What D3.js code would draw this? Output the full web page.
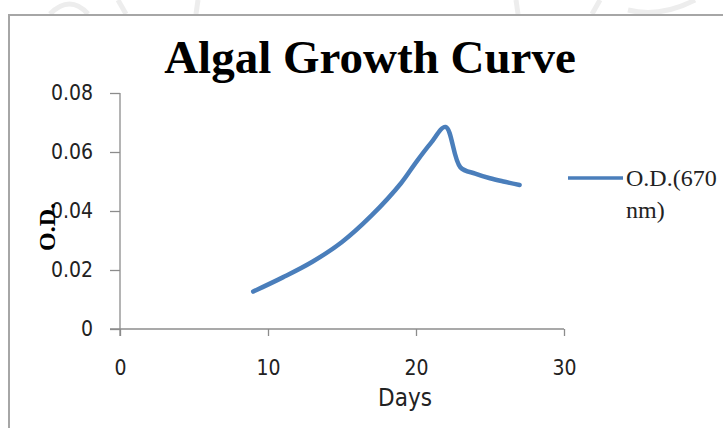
<!DOCTYPE html>
<html>
<head>
<meta charset="utf-8">
<script src="https://cdn.jsdelivr.net/npm/d3@7"></script>
<style>
  body { margin: 0; background: #fff; }
  svg { display: block; }
</style>
</head>
<body>
<svg id="chart" width="723" height="428"></svg>
<script>
// readings taken off the original chart
var days = [9, 11, 13, 15, 17, 19, 20, 21, 22, 23, 24, 25, 26, 27];
var odValues = [0.0127, 0.0175, 0.0228, 0.0295, 0.0385, 0.0495, 0.0565, 0.0630, 0.0685, 0.0548, 0.0527, 0.0511, 0.0499, 0.0488];
var xTicks = [0, 10, 20, 30];
var yTicks = [0, 0.02, 0.04, 0.06, 0.08];
var seriesName = ["O.D.(670", "nm)"];

var svg = d3.select('#chart');

var sansFont = 'DejaVu Sans Condensed, DejaVu Sans, sans-serif';
var serifFont = 'Liberation Serif, Times New Roman, serif';

// faint watermark marks at the very top
var wm = svg.append('g').attr('fill', 'none').attr('stroke', '#ededed').attr('stroke-width', 5);
wm.append('path').attr('d', 'M50,14 Q70,-6 88,14');
wm.append('path').attr('d', 'M118,0 L126,14');
wm.append('path').attr('d', 'M198,0 L196,14');
wm.append('path').attr('d', 'M516,0 L518,14');
wm.append('path').attr('d', 'M600,0 L592,14');
wm.append('path').attr('d', 'M628,10 Q660,18 695,0');

// chart area border
svg.append('path')
    .attr('d', 'M9,428 L9,15 L723,15')
    .attr('fill', 'none')
    .attr('stroke', '#a6a6a6')
    .attr('stroke-width', 2);

var x = d3.scaleLinear().domain([0, 30]).range([120, 564]);
var y = d3.scaleLinear().domain([0, 0.08]).range([329, 93]);

var axisColor = '#8c8c8c';

var gx = svg.append('g')
    .attr('transform', 'translate(0,329)')
    .call(d3.axisBottom(x).tickValues(xTicks).tickSize(7).tickPadding(24).tickSizeOuter(0));
var gy = svg.append('g')
    .attr('transform', 'translate(120,0)')
    .call(d3.axisLeft(y).tickValues(yTicks).tickSize(10).tickPadding(17).tickSizeOuter(0)
        .tickFormat(function(d){ return d === 0 ? '0' : d3.format('.2f')(d); }));

[gx, gy].forEach(function(g){
    g.selectAll('path, line').attr('stroke', axisColor).attr('stroke-width', 1.3);
    g.selectAll('text')
        .attr('fill', '#222')
        .style('font-family', sansFont)
        .style('font-size', '21px');
});
// x axis starts a bit left of the y axis like the original
gx.select('.domain').attr('d', 'M110,0H564');
gy.select('.domain').attr('d', 'M0,93V336');

// title
svg.append('text')
    .attr('x', 370).attr('y', 73)
    .attr('text-anchor', 'middle')
    .style('font-family', serifFont)
    .style('font-weight', 'bold')
    .style('font-size', '47px')
    .text('Algal Growth Curve');

// axis titles
svg.append('text')
    .attr('x', 405).attr('y', 406)
    .attr('text-anchor', 'middle')
    .style('font-family', sansFont)
    .style('font-size', '24px')
    .attr('fill', '#222')
    .text('Days');

svg.append('text')
    .attr('transform', 'translate(55,227) rotate(-90)')
    .attr('text-anchor', 'middle')
    .style('font-family', serifFont)
    .style('font-weight', 'bold')
    .style('font-size', '24px')
    .text('O.D.');

// the growth curve
var pts = days.map(function(d, i){ return [d, odValues[i]]; });
var line = d3.line()
    .x(function(d){ return x(d[0]); })
    .y(function(d){ return y(d[1]); })
    .curve(d3.curveCatmullRom.alpha(0.5));

svg.append('path')
    .datum(pts)
    .attr('d', line)
    .attr('fill', 'none')
    .attr('stroke', '#4a7ebb')
    .attr('stroke-width', 4.5)
    .attr('stroke-linecap', 'round')
    .attr('stroke-linejoin', 'round');

// legend
svg.append('line')
    .attr('x1', 568).attr('x2', 623)
    .attr('y1', 178).attr('y2', 178)
    .attr('stroke', '#4a7ebb')
    .attr('stroke-width', 3.5);

svg.append('text')
    .attr('x', 626).attr('y', 186)
    .style('font-family', serifFont)
    .style('font-size', '24px')
    .attr('fill', '#222')
    .selectAll('tspan')
    .data(seriesName)
    .enter()
    .append('tspan')
    .attr('x', 626)
    .attr('dy', function(d, i){ return i === 0 ? 0 : 32; })
    .text(function(d){ return d; });
</script>
</body>
</html>
